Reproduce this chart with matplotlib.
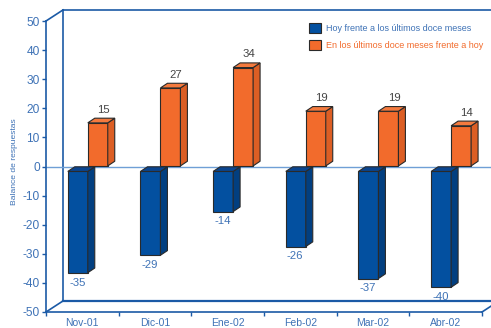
import matplotlib
matplotlib.use("Agg")
import matplotlib.pyplot as plt
from matplotlib.patches import Polygon, Patch

plt.rcParams['font.family'] = ['Liberation Sans', 'DejaVu Sans']

categories = ["Nov-01", "Dic-01", "Ene-02", "Feb-02", "Mar-02", "Abr-02"]
hoy = [-35, -29, -14, -26, -37, -40]
ultimos = [15, 27, 34, 19, 19, 14]
series_names = ["Hoy frente a los últimos doce meses",
                "En los últimos doce meses frente a hoy"]
yticks = list(range(-50, 51, 10))

BLUE = "#0350a0"
BLUE_SIDE = "#023f80"
BLUE_TOP = "#0a4590"
ORANGE = "#f26b2c"
ORANGE_SIDE = "#dc5e24"
ORANGE_TOP = "#f47a3e"
AXC = "#1b5aa6"
TXTB = "#3e72b6"
EDGE = "#2a2a2a"

fig = plt.figure(figsize=(4.91, 3.28), dpi=100)
renderer = fig.canvas.get_renderer()

def fit_size(s, target_px, rot=0):
    t = fig.text(0, 0, s, fontsize=10, rotation=rot)
    bb = t.get_window_extent(renderer)
    t.remove()
    w = bb.height if rot else bb.width
    return 10 * target_px / w

FS_LEG = fit_size(series_names[0], 146)
FS_CAT = fit_size("Nov-01", 30) * 1.12
FS_VAL = fit_size("-35", 15) * 1.1
FS_TICK = fit_size("-50", 16) * 1.08
FS_YL = fit_size("Balance de respuestas", 80, rot=90) * 1.08

ax = fig.add_axes([46/491, 16/328, 436/491, 291/328])
ax.set_xlim(0, 6)
ax.set_ylim(-50, 50)

WX, WY = 0.234, 3.8
line_kw = dict(color=AXC, lw=1.2, clip_on=False, zorder=1)
ax.plot([WX, WX], [-50 + WY, 50 + WY], **line_kw)
ax.plot([WX, 6 + WX + 0.3], [50 + WY, 50 + WY], **line_kw)
ax.plot([WX, 6 + WX + 0.3], [-50 + WY, -50 + WY], color=AXC, lw=1.6, clip_on=False, zorder=1)
ax.plot([0, WX], [50, 50 + WY], **line_kw)
ax.plot([0, WX], [-50, -50 + WY], **line_kw)
ax.plot([6, 6 + WX], [-50, -50 + WY], **line_kw)
ax.plot([0, 6 + WX + 0.3], [0, 0], color="#6f9fd6", lw=1.0, clip_on=False, zorder=2)

DX, DY = 0.096, 1.6
W = 0.275

def bar3d(x0, y0, y1, front, side, top):
    ax.add_patch(Polygon([(x0, y0), (x0 + W, y0), (x0 + W, y1), (x0, y1)],
                         closed=True, fc=front, ec=EDGE, lw=0.8, zorder=4, clip_on=False))
    ax.add_patch(Polygon([(x0 + W, y0), (x0 + W + DX, y0 + DY), (x0 + W + DX, y1 + DY), (x0 + W, y1)],
                         closed=True, fc=side, ec=EDGE, lw=0.8, zorder=4, clip_on=False))
    yt = max(y0, y1)
    ax.add_patch(Polygon([(x0, yt), (x0 + W, yt), (x0 + W + DX, yt + DY), (x0 + DX, yt + DY)],
                         closed=True, fc=top, ec=EDGE, lw=0.8, zorder=4, clip_on=False))

for i, (b, o) in enumerate(zip(hoy, ultimos)):
    bar3d(i + 0.30, -1.7, b - 1.5, BLUE, BLUE_SIDE, BLUE_TOP)
    bar3d(i + 0.575, 0.2, o, ORANGE, ORANGE_SIDE, ORANGE_TOP)
    ax.text(i + 0.79, o + DY + 2.9, str(o), ha='center', va='center',
            fontsize=FS_VAL, color="#444444", zorder=5)
    ax.text(i + 0.43, b - 4.9, str(b), ha='center', va='center',
            fontsize=FS_VAL, color=TXTB, zorder=5)

for s in ['top', 'right']:
    ax.spines[s].set_visible(False)
for s in ['left', 'bottom']:
    ax.spines[s].set_color(AXC)
    ax.spines[s].set_linewidth(1.2)

ax.set_yticks(yticks)
ax.set_yticklabels([str(t) for t in yticks])
ax.tick_params(axis='y', colors=AXC, labelcolor=TXTB, labelsize=FS_TICK,
               length=3, width=1, pad=1.5, direction='out')
ax.set_xticks(range(0, 7))
ax.set_xticklabels([])
ax.tick_params(axis='x', colors=AXC, length=3, width=1, direction='out')
for i, c in enumerate(categories):
    ax.text(i + 0.5, -50 - 3.9, c, ha='center', va='center', fontsize=FS_CAT, color=TXTB)

fig.text(15/491, 1 - 162/328, "Balance de respuestas", rotation=90,
         ha='center', va='center', fontsize=FS_YL, color=TXTB)

handles = [Patch(fc=BLUE, ec=EDGE, lw=0.8), Patch(fc=ORANGE, ec=EDGE, lw=0.8)]
leg = fig.legend(handles, series_names, loc='upper left',
                 bbox_to_anchor=(309/491, 1 - 23/328), frameon=False,
                 fontsize=FS_LEG, handlelength=1.3, handleheight=1.3,
                 handletextpad=0.6, labelspacing=0.75, borderpad=0, borderaxespad=0)
leg.get_texts()[0].set_color(TXTB)
leg.get_texts()[1].set_color(ORANGE)

fig.savefig("out.png", dpi=100)
